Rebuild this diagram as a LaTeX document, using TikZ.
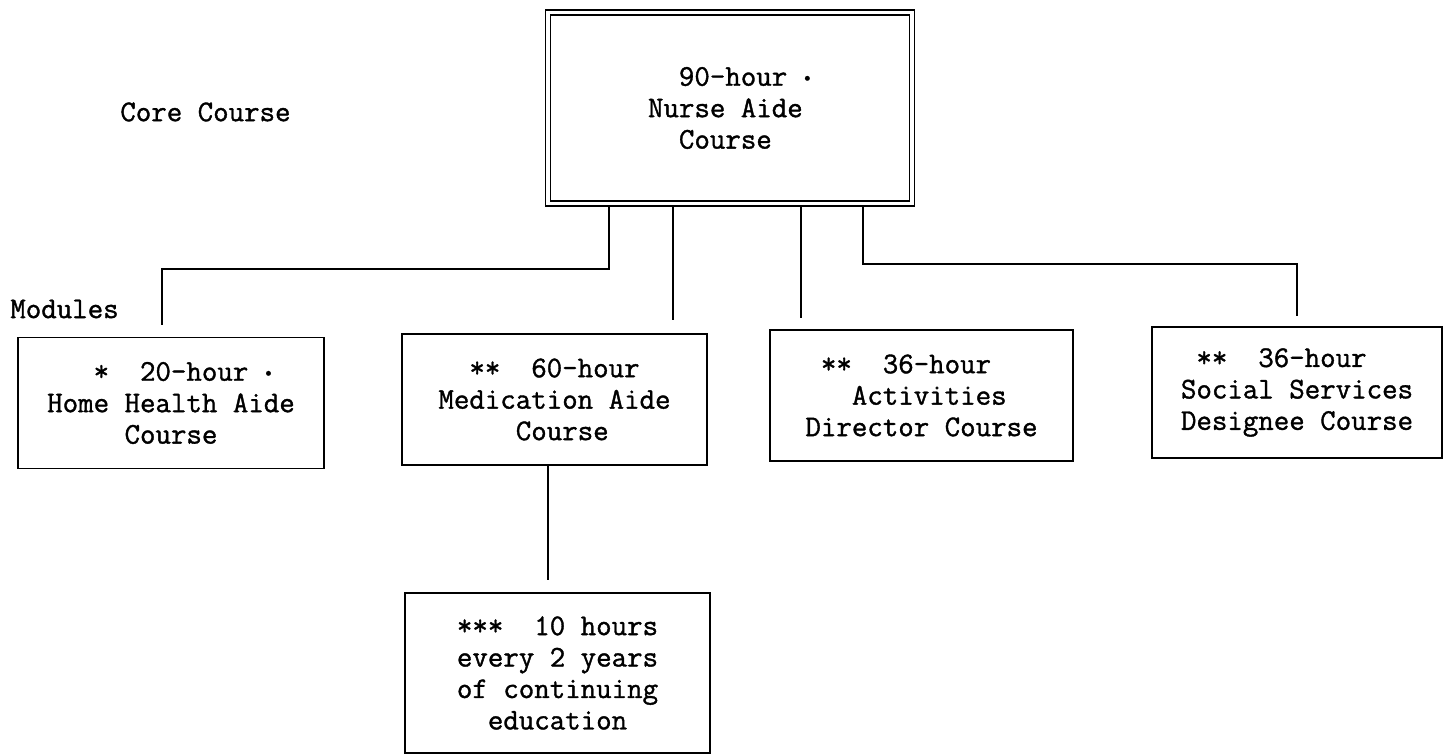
\documentclass[tikz,border=0pt]{standalone}
\usepackage{fontspec}
\usepackage{tikz}
\setmonofont{lmmono12-regular.otf}[FakeBold=1.2]

\newcommand{\blanks}[1]{\hspace*{#1\fontdimen2\font}}
\newcommand{\dotmark}{\raisebox{0.1em}{\scalebox{0.6}{•}}}

\begin{document}
\begin{tikzpicture}[x=0.02cm, y=-0.02cm,
        typed/.style={font=\ttfamily\fontsize{17.1}{17.9}\selectfont},
        coursebox/.style={typed, draw, line width=0.9pt, align=left, inner sep=0pt, minimum height=2.62cm},
        corebox/.style={typed, draw, double, line width=0.7pt, double distance=2.2pt, outer sep=1.8pt, align=left, minimum width=7.28cm, minimum height=3.82cm},
        heading/.style={typed, anchor=west, inner sep=0pt},
        conn/.style={line width=0.8pt}]
        \useasboundingbox (0,0) rectangle (1449,756);
        % Nodes
        \node[corebox] (core) at (730,108) {\blanks{2}90-hour \dotmark\\Nurse Aide\\\blanks{2}Course};
        \node[heading] (corelabel) at (120,112) {Core Course};
        \node[heading] (modlabel) at (10,309) {Modules};
        \node[coursebox, minimum width=6.12cm] (hh) at (171,403) {\blanks{3}*~~20-hour \dotmark\\Home Health Aide\\\blanks{5}Course};
        \node[coursebox, minimum width=6.1cm] (med) at (554.5,399.5) {\blanks{2}**~~60-hour\\Medication Aide\\\blanks{5}Course};
        \node[coursebox, minimum width=6.06cm] (act) at (921.5,395.5) {\blanks{1}**~~36-hour\\\blanks{3}Activities\\Director Course};
        \node[coursebox, minimum width=5.8cm] (soc) at (1297,392.5) {\blanks{1}**~~36-hour\\Social Services\\Designee Course};
        \node[coursebox, minimum width=6.1cm, minimum height=3.2cm] (cont) at (557.5,673) {***~~10 hours\\every 2 years\\of continuing\\\blanks{2}education};
        % Free ends and bends
        \coordinate (hh-knee) at (609,269);
        \coordinate (hh-end) at (162,325);
        \coordinate (med-end) at (673,320);
        \coordinate (act-end) at (801,318);
        \coordinate (soc-knee) at (863,264);
        \coordinate (soc-end) at (1297,316);
        \coordinate (cont-end) at (548,580);
        % Edges
        \draw[conn] (core.south -| hh-knee) -- (hh-knee) -| (hh-end);
        \draw[conn] (core.south -| med-end) -- (med-end);
        \draw[conn] (core.south -| act-end) -- (act-end);
        \draw[conn] (core.south -| soc-knee) -- (soc-knee) -| (soc-end);
        \draw[conn] (med.south -| cont-end) -- (cont-end);
    \end{tikzpicture}
\end{document}
